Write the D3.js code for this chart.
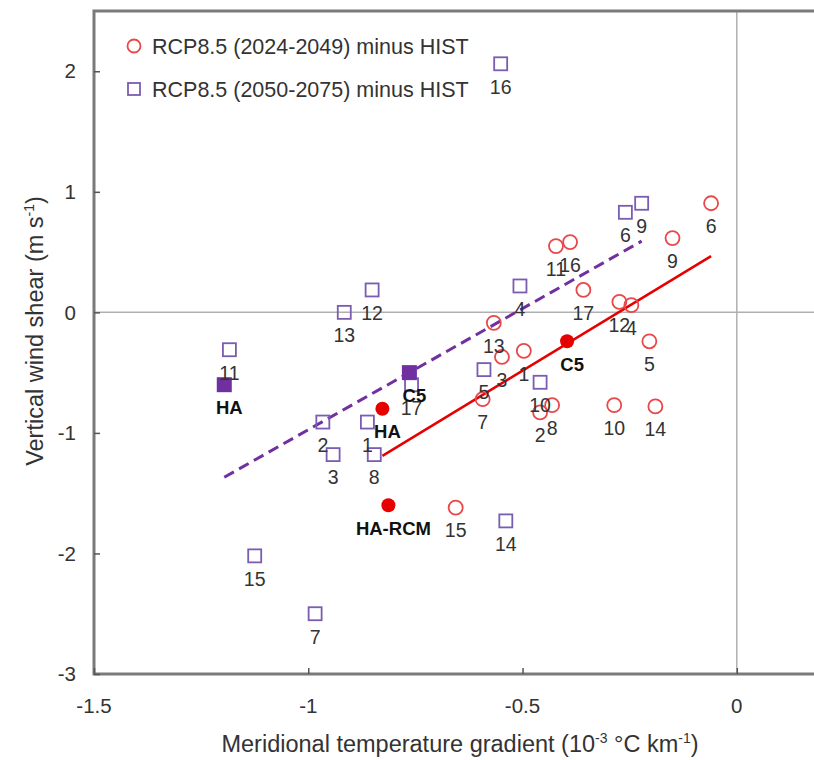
<!DOCTYPE html>
<html>
<head>
<meta charset="utf-8">
<script src="https://cdn.jsdelivr.net/npm/d3@7"></script>
<style>
  body { margin: 0; background: #fff; }
  text { font-family: "Liberation Sans", Arial, sans-serif; }
</style>
</head>
<body>
<svg id="chart" width="814" height="760"></svg>
<script>
// RCP8.5 (2024-2049) minus HIST, open red circles
const nearIds = [1, 2, 3, 4, 5, 6, 7, 8, 9, 10, 11, 12, 13, 14, 15, 16, 17];
const nearX = [-0.497, -0.459, -0.548, -0.246, -0.204, -0.060, -0.593, -0.431, -0.150, -0.286, -0.422, -0.274, -0.567, -0.190, -0.656, -0.389, -0.358];
const nearY = [-0.32, -0.83, -0.37, 0.06, -0.24, 0.905, -0.72, -0.77, 0.616, -0.77, 0.55, 0.087, -0.087, -0.78, -1.62, 0.583, 0.186];

// RCP8.5 (2050-2075) minus HIST, open purple squares
const farIds = [1, 2, 3, 4, 5, 6, 7, 8, 9, 10, 11, 12, 13, 14, 15, 16, 17];
const farX = [-0.862, -0.966, -0.942, -0.506, -0.590, -0.260, -0.984, -0.846, -0.222, -0.459, -1.184, -0.851, -0.916, -0.539, -1.125, -0.551, -0.759];
const farY = [-0.91, -0.91, -1.18, 0.219, -0.475, 0.83, -2.5, -1.18, 0.905, -0.58, -0.31, 0.186, 0.0, -1.73, -2.02, 2.062, -0.60];

// ensemble / reference markers
const nearRefNames = ['HA', 'C5', 'HA-RCM'];
const nearRefX = [-0.827, -0.396, -0.813];
const nearRefY = [-0.80, -0.24, -1.60];
const farRefNames = ['HA', 'C5'];
const farRefX = [-1.196, -0.764];
const farRefY = [-0.60, -0.50];

// fitted lines, endpoints
const nearFit = [[-0.827, -1.19], [-0.060, 0.467]];
const farFit = [[-1.196, -1.368], [-0.222, 0.591]];

const xTicks = [-1.5, -1, -0.5, 0];
const yTicks = [-3, -2, -1, 0, 1, 2];

const legendLabels = ['RCP8.5 (2024-2049) minus HIST', 'RCP8.5 (2050-2075) minus HIST'];

const red = '#e8484a', redDark = '#e60000';
const purple = '#7a5cb0', purpleDark = '#7030a0';
const ink = '#333';

const svg = d3.select('#chart');

const x = d3.scaleLinear().domain([-1.5, 0.2]).range([94, 822.5]);
const y = d3.scaleLinear().domain([-3, 2.5]).range([674, 11]);

const zip = (ids, xs, ys) => ids.map((id, i) => ({ id, x: xs[i], y: ys[i] }));
const near = zip(nearIds, nearX, nearY);
const far = zip(farIds, farX, farY);
const nearRef = zip(nearRefNames, nearRefX, nearRefY);
const farRef = zip(farRefNames, farRefX, farRefY);

// zero lines
svg.append('line')
    .attr('x1', x(0)).attr('x2', x(0))
    .attr('y1', y(2.5)).attr('y2', y(-3))
    .style('stroke', '#b0b0b0').style('stroke-width', 1.5);
svg.append('line')
    .attr('x1', x(-1.5)).attr('x2', 814)
    .attr('y1', y(0)).attr('y2', y(0))
    .style('stroke', '#b0b0b0').style('stroke-width', 1.5);

// frame
svg.append('path')
    .attr('d', `M${x(0.2)},${y(2.5)}H${x(-1.5)}V${y(-3)}H${x(0.2)}`)
    .style('fill', 'none')
    .style('stroke', '#7a7a7a')
    .style('stroke-width', 3);

// axes with inward ticks
const xAxis = svg.append('g')
    .attr('transform', `translate(0,${y(-3)})`)
    .call(d3.axisTop(x).tickValues(xTicks).tickSize(6).tickFormat(''));
const yAxis = svg.append('g')
    .attr('transform', `translate(${x(-1.5)},0)`)
    .call(d3.axisRight(y).tickValues(yTicks).tickSize(6).tickFormat(''));
[xAxis, yAxis].forEach(g => {
    g.select('.domain').remove();
    g.selectAll('line').style('stroke', '#555').style('stroke-width', 1.5);
});

svg.append('g').selectAll('text')
    .data(xTicks)
    .enter()
    .append('text')
    .attr('x', d => x(d))
    .attr('y', y(-3) + 39)
    .attr('text-anchor', 'middle')
    .style('font-size', '20.5px')
    .style('fill', ink)
    .text(d => d);

svg.append('g').selectAll('text')
    .data(yTicks)
    .enter()
    .append('text')
    .attr('x', 76)
    .attr('y', d => y(d))
    .attr('dy', '0.35em')
    .attr('text-anchor', 'end')
    .style('font-size', '20.5px')
    .style('fill', ink)
    .text(d => d);

// axis titles
const xTitle = svg.append('text')
    .attr('x', 460)
    .attr('y', 752)
    .attr('text-anchor', 'middle')
    .style('font-size', '23.5px')
    .style('fill', ink);
xTitle.append('tspan').text('Meridional temperature gradient (10');
xTitle.append('tspan').attr('dy', -9).style('font-size', '14px').text('-3');
xTitle.append('tspan').attr('dy', 9).text(' °C km');
xTitle.append('tspan').attr('dy', -9).style('font-size', '14px').text('-1');
xTitle.append('tspan').attr('dy', 9).text(')');

const yTitle = svg.append('text')
    .attr('transform', 'translate(43,331) rotate(-90)')
    .attr('text-anchor', 'middle')
    .style('font-size', '23.5px')
    .style('fill', ink);
yTitle.append('tspan').text('Vertical wind shear (m s');
yTitle.append('tspan').attr('dy', -9).style('font-size', '14px').text('-1');
yTitle.append('tspan').attr('dy', 9).text(')');

// fit lines
const line = d3.line().x(d => x(d[0])).y(d => y(d[1]));
svg.append('path')
    .attr('d', line(farFit))
    .style('fill', 'none')
    .style('stroke', purpleDark)
    .style('stroke-width', 3)
    .style('stroke-dasharray', '11,6');
svg.append('path')
    .attr('d', line(nearFit))
    .style('fill', 'none')
    .style('stroke', redDark)
    .style('stroke-width', 2.5);

// markers
const s = 13;
svg.append('g').selectAll('rect')
    .data(far)
    .enter()
    .append('rect')
    .attr('x', d => x(d.x) - s / 2)
    .attr('y', d => y(d.y) - s / 2)
    .attr('width', s).attr('height', s)
    .style('fill', 'none')
    .style('stroke', purple)
    .style('stroke-width', 1.8);

svg.append('g').selectAll('circle')
    .data(near)
    .enter()
    .append('circle')
    .attr('cx', d => x(d.x))
    .attr('cy', d => y(d.y))
    .attr('r', 7)
    .style('fill', 'none')
    .style('stroke', red)
    .style('stroke-width', 1.8);

svg.append('g').selectAll('rect')
    .data(farRef)
    .enter()
    .append('rect')
    .attr('x', d => x(d.x) - 7.5)
    .attr('y', d => y(d.y) - 7.5)
    .attr('width', 15).attr('height', 15)
    .style('fill', purpleDark);

svg.append('g').selectAll('circle')
    .data(nearRef)
    .enter()
    .append('circle')
    .attr('cx', d => x(d.x))
    .attr('cy', d => y(d.y))
    .attr('r', 7)
    .style('fill', redDark);

// number labels below each marker
svg.append('g').selectAll('text')
    .data(near.concat(far))
    .enter()
    .append('text')
    .attr('x', d => x(d.x))
    .attr('y', d => y(d.y) + 23)
    .attr('dy', '0.35em')
    .attr('text-anchor', 'middle')
    .style('font-size', '19.5px')
    .style('fill', ink)
    .text(d => d.id);

svg.append('g').selectAll('text')
    .data(nearRef.concat(farRef))
    .enter()
    .append('text')
    .attr('x', d => x(d.x) + 5)
    .attr('y', d => y(d.y) + 23)
    .attr('dy', '0.35em')
    .attr('text-anchor', 'middle')
    .style('font-size', '18.5px')
    .style('font-weight', 'bold')
    .style('fill', '#111')
    .text(d => d.id);

// legend
const legend = svg.append('g').attr('transform', 'translate(134,46)');
legend.append('circle')
    .attr('r', 6.5)
    .style('fill', 'none')
    .style('stroke', red)
    .style('stroke-width', 1.8);
legend.append('rect')
    .attr('x', -6).attr('y', 37)
    .attr('width', 12).attr('height', 12)
    .style('fill', 'none')
    .style('stroke', purple)
    .style('stroke-width', 1.8);
legend.selectAll('text')
    .data(legendLabels)
    .enter()
    .append('text')
    .attr('x', 18)
    .attr('y', (d, i) => i * 43)
    .attr('dy', '0.35em')
    .style('font-size', '21.5px')
    .style('fill', ink)
    .text(d => d);
</script>
</body>
</html>
